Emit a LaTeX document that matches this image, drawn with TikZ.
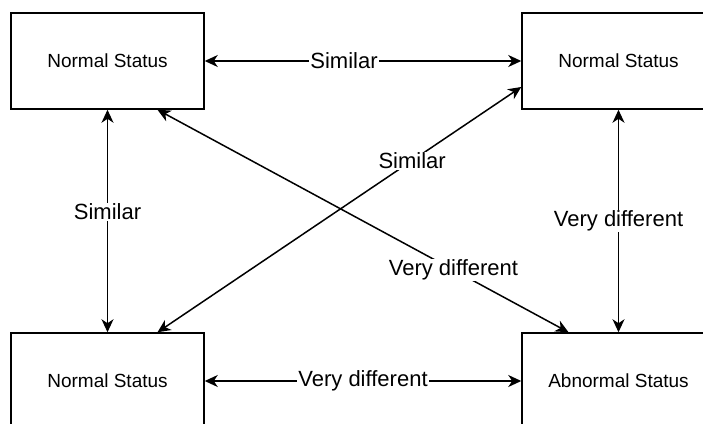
\documentclass[tikz,border=0pt]{standalone}
\usepackage{fontspec}
\setmainfont{Liberation Sans}
\usetikzlibrary{arrows.meta}
\tikzset{
  statebox/.style={draw, line width=1.5pt, minimum width=193pt, minimum height=96pt, inner sep=0pt, font=\fontsize{19}{22}\selectfont},
  link/.style={line width=1.5pt, {Stealth[length=13pt,width=12pt,inset=4pt]}-{Stealth[length=13pt,width=12pt,inset=4pt]}},
  lbl/.style={fill=white, inner sep=1pt, font=\fontsize{22}{26}\selectfont}
}
\begin{document}
\begin{tikzpicture}[x=1pt,y=-1pt]
\useasboundingbox (0,0) rectangle (703,423);
\node[statebox] (tl) at (107.5,61) {Normal Status};
\node[statebox] (tr) at (618.5,61) {Normal Status};
\node[statebox] (bl) at (107.5,381) {Normal Status};
\node[statebox] (br) at (618.5,381) {Abnormal Status};
\coordinate (tls) at ([xshift=50pt]tl.south);
\coordinate (brn) at ([xshift=-50pt]br.north);
\coordinate (bln) at ([xshift=50pt]bl.north);
\coordinate (trw) at ([yshift=-26pt]tr.west);
\draw[link] (tl.east) -- node[lbl, pos=0.44] (l1) {Similar} (tr.west);
\draw[link] (tl.south) -- node[lbl, pos=0.46] (l2) {Similar} (bl.north);
\draw[link] (tr.south) -- node[lbl, pos=0.5] (l3) {Very different} (br.north);
\draw[link] (bl.east) -- node[lbl, pos=0.5] (l4) {Very different} (br.west);
\draw[link] (tls) -- node[lbl, pos=0.72] (l5) {Very different} (brn);
\draw[link] (bln) -- node[lbl, pos=0.70] (l6) {Similar} (trw);
\end{tikzpicture}
\end{document}
